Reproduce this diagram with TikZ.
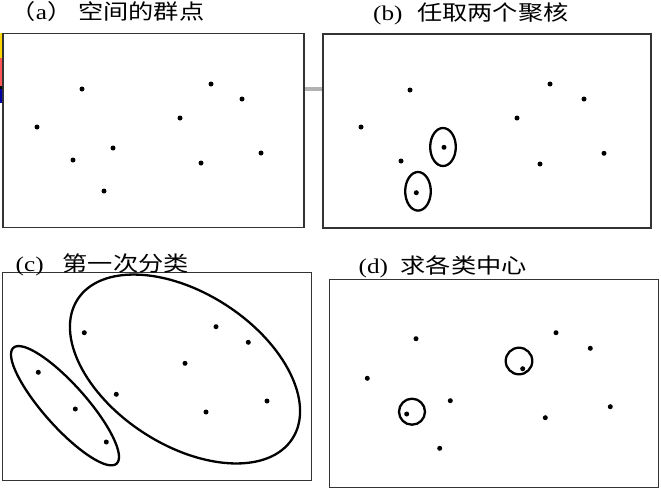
\documentclass[tikz,border=0pt]{standalone}
\usepackage{fontspec}
\usepackage{graphicx}
\setmainfont{Liberation Serif}
\newfontfamily\cjk{Noto Sans CJK SC}
\tikzset{
  dot/.style={circle,fill=black,inner sep=0pt,minimum size=5pt},
  panel/.style={draw=black!80,line width=1.3pt},
  ring/.style={draw=black,line width=2.3pt},
  lbl/.style={anchor=base west,inner sep=0pt,font=\fontsize{21}{25}\selectfont},
}
\newcommand{\wide}[1]{\scalebox{1.2}[1]{#1}}
\begin{document}
\begin{tikzpicture}[x=1pt,y=-1pt]
\useasboundingbox (0,0) rectangle (661,491);
% left edge artefact strip
\fill[yellow!75!orange] (0,33) rectangle (2.6,58);
\fill[red!55!pink] (0,58) rectangle (2.6,86);
\fill[black] (0,86) rectangle (2.6,89);
\fill[blue!65!black] (0,89) rectangle (2.6,103);
% connector between panels a and b
\draw[black!30,line width=4pt] (304,88.5) -- (323,88.5);
% panels
\draw[panel] (3,33.5) rectangle (304,227.5);
\draw[panel] (323,34) rectangle (651,228);
\draw[panel] (2.5,272.7) rectangle (311.5,480.7);
\draw[panel] (329.3,279.3) rectangle (658.3,487.3);
% labels
\node[lbl] (la) at (10.5,19.5) {\wide{{\cjk （}a{\cjk ）}}};
\node[lbl] (ta) at (78,19.5) {\wide{\cjk 空间的群点}};
\node[lbl] (lb) at (373,20) {\wide{(b)}};
\node[lbl] (tb) at (417,20) {\wide{\cjk 任取两个聚核}};
\node[lbl] (lc) at (15.5,271) {\wide{(c)}};
\node[lbl] (tc) at (62.5,271) {\wide{\cjk 第一次分类}};
\node[lbl] (ld) at (358.5,273) {\wide{(d)}};
\node[lbl] (td) at (400.5,273) {\wide{\cjk 求各类中心}};
% panel a points
\node[dot] (a1) at (82,89) {};
\node[dot] (a2) at (37,127) {};
\node[dot] (a3) at (73,160) {};
\node[dot] (a4) at (113,148) {};
\node[dot] (a5) at (104,191) {};
\node[dot] (a6) at (180,118) {};
\node[dot] (a7) at (211,84) {};
\node[dot] (a8) at (242,99) {};
\node[dot] (a9) at (201,163) {};
\node[dot] (a10) at (261,153) {};
% panel b points
\node[dot] (b1) at (410,90) {};
\node[dot] (b2) at (361,127) {};
\node[dot] (b3) at (401,161) {};
\node[dot] (b4) at (444,147.3) {};
\node[dot] (b5) at (416.3,192.7) {};
\node[dot] (b6) at (517,118) {};
\node[dot] (b7) at (550,84) {};
\node[dot] (b8) at (584,99) {};
\node[dot] (b9) at (540,164) {};
\node[dot] (b10) at (604,153.3) {};
\draw[ring] (443,147) ellipse [x radius=12.8, y radius=19];
\draw[ring] (418,191.3) ellipse [x radius=12.8, y radius=19.3];
% panel c points
\node[dot] (c1) at (84.3,332.7) {};
\node[dot] (c2) at (38.3,372.3) {};
\node[dot] (c3) at (75.3,409) {};
\node[dot] (c4) at (106.3,442) {};
\node[dot] (c5) at (116.3,394.3) {};
\node[dot] (c6) at (185,363.3) {};
\node[dot] (c7) at (216,326.7) {};
\node[dot] (c8) at (248.3,342.3) {};
\node[dot] (c9) at (206,412) {};
\node[dot] (c10) at (267,401) {};
\draw[ring,rotate around={-33:(185,369)}] (185,369) ellipse [x radius=128, y radius=76];
\draw[ring,rotate around={-48.3:(65,405.7)}] (65,405.7) ellipse [x radius=77.6, y radius=21.3];
% panel d points
\node[dot] (d1) at (416,338.7) {};
\node[dot] (d2) at (367.3,378.3) {};
\node[dot] (d3) at (450.3,400.7) {};
\node[dot] (d4) at (406.7,414) {};
\node[dot] (d5) at (439.7,448.3) {};
\node[dot] (d6) at (522.7,368.7) {};
\node[dot] (d7) at (556,332.7) {};
\node[dot] (d8) at (590.3,348.3) {};
\node[dot] (d9) at (545.3,417.7) {};
\node[dot] (d10) at (610.3,406.7) {};
\draw[ring] (412,411.7) circle [radius=13];
\draw[ring] (519,361) circle [radius=13.3];
\end{tikzpicture}
\end{document}
